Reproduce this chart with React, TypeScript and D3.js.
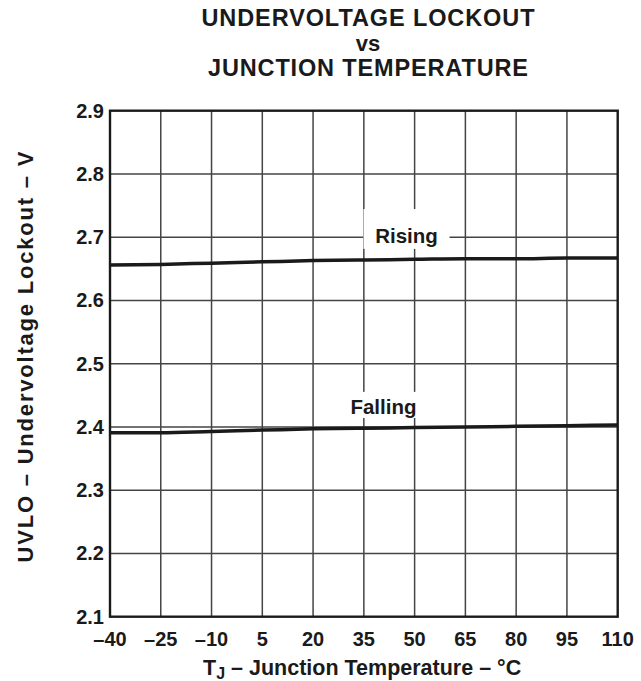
import * as d3 from 'd3';

const temps = [-40, -25, -10, 5, 20, 35, 50, 65, 80, 95, 110];
const rising = [2.656, 2.657, 2.659, 2.661, 2.663, 2.664, 2.665, 2.666, 2.666, 2.667, 2.667];
const falling = [2.391, 2.391, 2.393, 2.395, 2.397, 2.398, 2.399, 2.4, 2.401, 2.402, 2.403];
const yTicks = [2.1, 2.2, 2.3, 2.4, 2.5, 2.6, 2.7, 2.8, 2.9];
const titleLines = ['UNDERVOLTAGE LOCKOUT', 'vs', 'JUNCTION TEMPERATURE'];
const titleWidths = [333, 0, 320];

const W = 641;
const H = 681;
const margin = { top: 110.7, right: 23.3, bottom: 64.3, left: 110 };

export default function App() {
  const innerW = W - margin.left - margin.right;
  const innerH = H - margin.top - margin.bottom;

  const x = d3.scaleLinear().domain([-40, 110]).range([0, innerW]);
  const y = d3.scaleLinear().domain([2.1, 2.9]).range([innerH, 0]);

  const line = d3.line<number>()
    .x((_, i) => x(temps[i]))
    .y(d => y(d))
    .curve(d3.curveMonotoneX);

  const font = 'Arial, "Liberation Sans", Helvetica, sans-serif';
  const ink = '#1a1a1a';

  return (
    <svg
      width={W}
      height={H}
      style={{ position: 'absolute', left: 0, top: 0, background: '#fff' }}
      fontFamily={font}
      fontWeight="bold"
    >
      {titleLines.map((t, i) => (
        <text
          key={t}
          x={368}
          y={26 + i * 25}
          textAnchor="middle"
          fontSize={i === 1 ? 22 : 23.5}
          fill={ink}
          {...(titleWidths[i] ? { textLength: titleWidths[i], lengthAdjust: 'spacing' } : {})}
        >
          {t}
        </text>
      ))}

      <g transform={`translate(${margin.left},${margin.top})`}>
        {/* grid */}
        {temps.slice(1, -1).map(t => (
          <line key={'gx' + t} x1={x(t)} x2={x(t)} y1={0} y2={innerH} stroke="#444" strokeWidth={1.5} />
        ))}
        {yTicks.slice(1, -1).map(v => (
          <line key={'gy' + v} x1={0} x2={innerW} y1={y(v)} y2={y(v)} stroke="#444" strokeWidth={1.5} />
        ))}

        {/* curves */}
        <path d={line(rising) ?? ''} fill="none" stroke={ink} strokeWidth={3.5} />
        <path d={line(falling) ?? ''} fill="none" stroke={ink} strokeWidth={3.5} />

        {/* curve labels with white backing */}
        <rect x={x(47.6) - 43} y={y(2.7445)} width={86} height={y(2.691) - y(2.7445) + 6} fill="#fff" />
        <text x={x(47.6)} y={y(2.691)} textAnchor="middle" fontSize={20.5} fill={ink}>Rising</text>
        <rect x={x(40.8) - 37} y={y(2.4555)} width={74} height={y(2.4205) - y(2.4555) + 4} fill="#fff" />
        <text x={x(40.8)} y={y(2.4205)} textAnchor="middle" fontSize={20.5} fill={ink}>Falling</text>

        {/* frame */}
        <rect x={0} y={0} width={innerW} height={innerH} fill="none" stroke={ink} strokeWidth={2.4} />

        {/* y tick labels */}
        {yTicks.map(v => (
          <text key={'ty' + v} x={-6} y={y(v) + 7} textAnchor="end" fontSize={20} fill={ink}>
            {v.toFixed(1)}
          </text>
        ))}

        {/* x tick labels */}
        {temps.map(t => (
          <text key={'tx' + t} x={x(t)} y={innerH + 29} textAnchor="middle" fontSize={20} fill={ink}>
            {t < 0 ? '\u2013' + Math.abs(t) : t}
          </text>
        ))}
      </g>

      <text x={203} y={675} fontSize={21.5} fill={ink}>
        T<tspan fontSize={16} dy={4}>J</tspan>
        <tspan dy={-4}> {'\u2013'} Junction Temperature {'\u2013'} {'\u00B0'}C</tspan>
      </text>

      <text
        transform={`translate(33,357) rotate(-90)`}
        textAnchor="middle"
        fontSize={22}
        fill={ink}
        textLength={411}
        lengthAdjust="spacing"
      >
        UVLO {'\u2013'} Undervoltage Lockout {'\u2013'} V
      </text>
    </svg>
  );
}
